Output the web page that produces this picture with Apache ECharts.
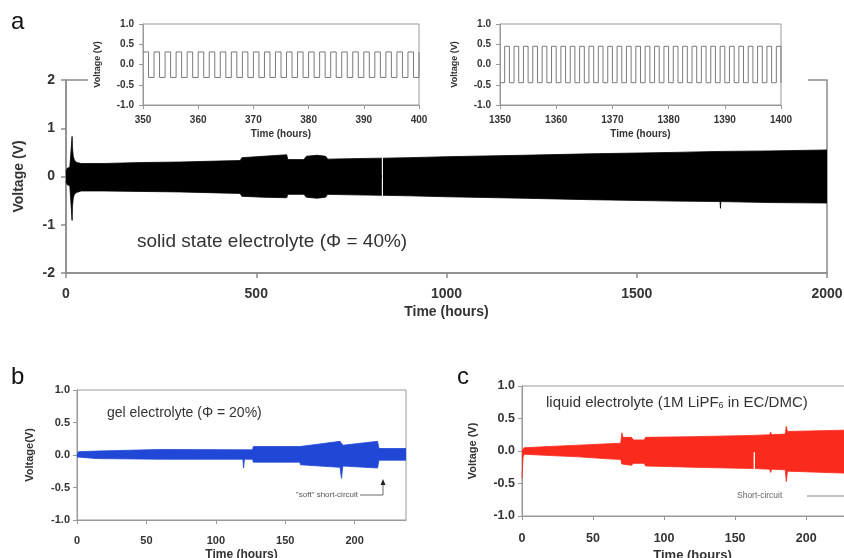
<!DOCTYPE html>
<html>
<head>
<meta charset="UTF-8"/>
<title>Voltage vs time</title>
<script src="https://cdn.jsdelivr.net/npm/echarts@6/dist/echarts.min.js"></script>
<style>
  html, body { margin: 0; padding: 0; background: #fff; }
  #chart { width: 844px; height: 558px; }
</style>
</head>
<body>
<div id="chart"></div>
<script type="text/javascript">
    // panel a: envelope of the cycling voltage (solid state electrolyte)
    var aTime  = [0, 3, 10, 15, 16, 17, 19, 22, 28, 40, 100, 200, 300, 400, 458, 462, 520, 580, 583, 625, 632, 660, 682, 688, 750, 830, 831.5, 833, 900, 1000, 1200, 1377, 1600, 1719, 1720, 1721, 1850, 2000];
    var aUpper = [0.1, 0.17, 0.19, 0.2, 0.83, 0.6, 0.42, 0.34, 0.29, 0.27, 0.27, 0.29, 0.3, 0.32, 0.33, 0.39, 0.42, 0.45, 0.35, 0.35, 0.42, 0.44, 0.42, 0.36, 0.37, 0.38, null, 0.38, 0.39, 0.41, 0.44, 0.47, 0.5, 0.52, 0.52, 0.52, 0.53, 0.55];
    var aLower = [-0.1, -0.17, -0.19, -0.22, -0.91, -0.62, -0.45, -0.37, -0.33, -0.3, -0.3, -0.31, -0.32, -0.34, -0.35, -0.41, -0.43, -0.44, -0.37, -0.37, -0.43, -0.45, -0.43, -0.37, -0.38, -0.39, null, -0.39, -0.4, -0.42, -0.45, -0.48, -0.51, -0.52, -0.66, -0.52, -0.54, -0.55];

    // insets of panel a: square waves
    var in1Time = [350, 351, 352, 353, 354, 355, 356, 357, 358, 359, 360, 361, 362, 363, 364, 365, 366, 367, 368, 369,
                   370, 371, 372, 373, 374, 375, 376, 377, 378, 379, 380, 381, 382, 383, 384, 385, 386, 387, 388, 389,
                   390, 391, 392, 393, 394, 395, 396, 397, 398, 399, 400];
    var in1Volt = [0.31, -0.32, 0.31, -0.32, 0.31, -0.32, 0.31, -0.32, 0.31, -0.32, 0.31, -0.32, 0.31, -0.32, 0.31, -0.32, 0.31, -0.32, 0.31, -0.32,
                   0.31, -0.32, 0.31, -0.32, 0.31, -0.32, 0.31, -0.32, 0.31, -0.32, 0.31, -0.32, 0.31, -0.32, 0.31, -0.32, 0.31, -0.32, 0.31, -0.32,
                   0.31, -0.32, 0.31, -0.32, 0.31, -0.32, 0.31, -0.32, 0.31, -0.32, 0.31];
    var in2Time = [1350, 1350.83, 1351.67, 1352.5, 1353.33, 1354.17, 1355, 1355.83, 1356.67, 1357.5, 1358.33, 1359.17,
                   1360, 1360.83, 1361.67, 1362.5, 1363.33, 1364.17, 1365, 1365.83, 1366.67, 1367.5, 1368.33, 1369.17,
                   1370, 1370.83, 1371.67, 1372.5, 1373.33, 1374.17, 1375, 1375.83, 1376.67, 1377.5, 1378.33, 1379.17,
                   1380, 1380.83, 1381.67, 1382.5, 1383.33, 1384.17, 1385, 1385.83, 1386.67, 1387.5, 1388.33, 1389.17,
                   1390, 1390.83, 1391.67, 1392.5, 1393.33, 1394.17, 1395, 1395.83, 1396.67, 1397.5, 1398.33, 1399.17, 1400];
    var in2Volt = [-0.45, 0.45, -0.45, 0.45, -0.45, 0.45, -0.45, 0.45, -0.45, 0.45, -0.45, 0.45,
                   -0.45, 0.45, -0.45, 0.45, -0.45, 0.45, -0.45, 0.45, -0.45, 0.45, -0.45, 0.45,
                   -0.45, 0.45, -0.45, 0.45, -0.45, 0.45, -0.45, 0.45, -0.45, 0.45, -0.45, 0.45,
                   -0.45, 0.45, -0.45, 0.45, -0.45, 0.45, -0.45, 0.45, -0.45, 0.45, -0.45, 0.45,
                   -0.45, 0.45, -0.45, 0.45, -0.45, 0.45, -0.45, 0.45, -0.45, 0.45, -0.45, 0.45, -0.45];

    // panel b: gel electrolyte
    var bTime  = [0, 1, 14, 15, 60, 119.5, 120, 120.6, 126.5, 127, 160.5, 161, 175, 189.5, 190.5, 191.5, 216.5, 217.5, 237];
    var bUpper = [0.0, 0.05, 0.06, 0.09, 0.085, 0.08, 0.08, 0.08, 0.08, 0.13, 0.13, 0.15, 0.17, 0.21, 0.22, 0.15, 0.21, 0.1, 0.1];
    var bLower = [-0.03, -0.05, -0.055, -0.065, -0.065, -0.065, -0.2, -0.065, -0.065, -0.11, -0.11, -0.15, -0.17, -0.19, -0.36, -0.17, -0.2, -0.08, -0.08];

    // panel c: liquid electrolyte
    var cTime  = [0, 0.7, 1.5, 20, 40, 60, 69.5, 70.3, 71, 77, 78.5, 86, 87, 120, 163, 163.5, 164, 174.3, 175, 175.7, 185.3, 186, 186.8, 188, 226, 240];
    var cUpper = [0.0, 0.03, 0.05, 0.07, 0.09, 0.11, 0.12, 0.28, 0.21, 0.21, 0.17, 0.17, 0.21, 0.22, 0.24, 0.24, 0.24, 0.25, 0.29, 0.25, 0.26, 0.38, 0.3, 0.31, 0.32, 0.32];
    var cLower = [-0.42, -0.1, -0.05, -0.07, -0.09, -0.12, -0.13, -0.2, -0.23, -0.22, -0.19, -0.19, -0.23, -0.25, -0.27, null, -0.27, -0.28, -0.33, -0.28, -0.29, -0.47, -0.31, -0.32, -0.34, -0.34];

    var bandColor = { a: '#000000', b: '#2147d6', c: '#fa2a1c' };
    var font = 'Liberation Sans, Arial, sans-serif';
    var plain = function(v) { return String(v); };
    var oneDec = function(v) { return v.toFixed(1); };

    var pairs = function(xs, ys) {
        return xs.map(function(x, i) { return [x, ys[i] == null ? '-' : ys[i]]; });
    };

    // one envelope filled toward zero; the two halves overlap a little so no seam shows
    var bandSeries = function(idx, xs, ys, color, origin) {
        return {
            type: 'line', xAxisIndex: idx, yAxisIndex: idx,
            data: pairs(xs, ys), symbol: 'none', silent: true,
            lineStyle: { color: color, width: 0.8 },
            areaStyle: { color: color, opacity: 1, origin: origin },
            z: 2
        };
    };

    var ax = function(idx, opt) {
        return Object.assign({
            type: 'value', gridIndex: idx, nameLocation: 'middle',
            splitLine: { show: false },
            axisLine: { show: true, onZero: false, lineStyle: { color: '#999', width: 1 } },
            axisTick: { show: true, length: 4, lineStyle: { color: '#999' } },
            axisLabel: { color: '#333', fontWeight: 'bold', fontFamily: font },
            nameTextStyle: { color: '#333', fontWeight: 'bold', fontFamily: font }
        }, opt);
    };
    var lbl = function(size, margin, fmt, extra) {
        return Object.assign({ color: '#333', fontWeight: 'bold', fontFamily: font, fontSize: size, margin: margin, formatter: fmt }, extra || {});
    };
    var nm = function(size) { return { color: '#333', fontWeight: 'bold', fontFamily: font, fontSize: size }; };
    var bTicks = [0, 50, 100, 150, 200];

    const chart = echarts.init(document.getElementById('chart'));
    chart.setOption({
        animation: false,
        textStyle: { fontFamily: font },
        grid: [
            { left: 66, top: 80, width: 761, height: 193, show: true, borderColor: '#8c8c8c', borderWidth: 1.5, z: 0, outerBoundsMode: 'none' },
            { left: 143, top: 24, width: 276, height: 81, show: true, borderColor: '#999', borderWidth: 1, backgroundColor: '#fff', z: 5, outerBoundsMode: 'none' },
            { left: 500, top: 24, width: 281, height: 81, show: true, borderColor: '#999', borderWidth: 1, backgroundColor: '#fff', z: 5, outerBoundsMode: 'none' },
            { left: 77, top: 390, width: 329, height: 130, show: true, borderColor: '#999', borderWidth: 1, outerBoundsMode: 'none' },
            { left: 522, top: 386, width: 341, height: 130, show: true, borderColor: '#999', borderWidth: 1, outerBoundsMode: 'none' }
        ],
        xAxis: [
            ax(0, { min: 0, max: 2000, interval: 500, name: 'Time (hours)', nameGap: 32,
                axisLine: { show: true, onZero: false, lineStyle: { color: '#8c8c8c', width: 1.5 } },
                axisTick: { show: true, length: 5, lineStyle: { color: '#8c8c8c', width: 1.5 } },
                axisLabel: lbl(14, 14, plain), nameTextStyle: nm(14) }),
            ax(1, { min: 350, max: 400, interval: 10, name: 'Time (hours)', nameGap: 24, z: 5,
                axisLabel: lbl(10, 10, plain), nameTextStyle: nm(10) }),
            ax(2, { min: 1350, max: 1400, interval: 10, name: 'Time (hours)', nameGap: 24, z: 5,
                axisLabel: lbl(10, 10, plain), nameTextStyle: nm(10) }),
            ax(3, { min: 0, max: 237, name: 'Time (hours)', nameGap: 29,
                axisTick: { show: true, length: 4, lineStyle: { color: '#999' }, customValues: bTicks },
                axisLabel: lbl(11, 15, plain, { customValues: bTicks }), nameTextStyle: nm(12) }),
            ax(4, { min: 0, max: 240, name: 'Time (hours)', nameGap: 33,
                axisTick: { show: true, length: 4, lineStyle: { color: '#999' }, customValues: bTicks },
                axisLabel: lbl(12.5, 16, plain, { customValues: bTicks }), nameTextStyle: nm(13) })
        ],
        yAxis: [
            ax(0, { min: -2, max: 2, interval: 1, name: 'Voltage (V)', nameGap: 40,
                axisLine: { show: true, onZero: false, lineStyle: { color: '#8c8c8c', width: 1.5 } },
                axisTick: { show: true, length: 5, lineStyle: { color: '#8c8c8c', width: 1.5 } },
                axisLabel: lbl(14, 11, plain), nameTextStyle: nm(14) }),
            ax(1, { min: -1, max: 1, interval: 0.5, name: 'Voltage (V)', nameGap: 41, z: 5,
                axisLabel: lbl(10, 9, oneDec), nameTextStyle: nm(9) }),
            ax(2, { min: -1, max: 1, interval: 0.5, name: 'Voltage (V)', nameGap: 41, z: 5,
                axisLabel: lbl(10, 9, oneDec), nameTextStyle: nm(9) }),
            ax(3, { min: -1, max: 1, interval: 0.5, name: 'Voltage(V)', nameGap: 42,
                axisLabel: lbl(11, 7, oneDec), nameTextStyle: nm(11) }),
            ax(4, { min: -1, max: 1, interval: 0.5, name: 'Voltage (V)', nameGap: 44,
                axisLabel: lbl(12.5, 7, oneDec), nameTextStyle: nm(11) })
        ],
        series: [
            bandSeries(0, aTime, aUpper, bandColor.a, -0.03),
            bandSeries(0, aTime, aLower, bandColor.a, 0.03),
            { type: 'line', xAxisIndex: 1, yAxisIndex: 1, data: pairs(in1Time, in1Volt), step: 'end',
              symbol: 'none', silent: true, lineStyle: { color: '#7a7a7a', width: 1 }, z: 6 },
            { type: 'line', xAxisIndex: 2, yAxisIndex: 2, data: pairs(in2Time, in2Volt), step: 'end',
              symbol: 'none', silent: true, lineStyle: { color: '#7a7a7a', width: 1 }, z: 6 },
            bandSeries(3, bTime, bUpper, bandColor.b, -0.02),
            bandSeries(3, bTime, bLower, bandColor.b, 0.0),
            bandSeries(4, cTime, cUpper, bandColor.c, -0.02),
            bandSeries(4, cTime, cLower, bandColor.c, 0.0)
        ],
        graphic: [
            // white patch behind the insets hides the top frame line of panel a
            { type: 'rect', z: 3, shape: { x: 88, y: 0, width: 720, height: 138 }, style: { fill: '#fff' } },
            { type: 'text', z: 10, x: 11, y: 22, style: { text: 'a', fontSize: 24, fontFamily: font, fill: '#111', verticalAlign: 'middle' } },
            { type: 'text', z: 10, x: 11, y: 377, style: { text: 'b', fontSize: 24, fontFamily: font, fill: '#111', verticalAlign: 'middle' } },
            { type: 'text', z: 10, x: 457, y: 377, style: { text: 'c', fontSize: 24, fontFamily: font, fill: '#111', verticalAlign: 'middle' } },
            { type: 'text', z: 10, x: 137, y: 242, style: { text: 'solid state electrolyte (\u03A6 = 40%)', fontSize: 19, fontFamily: font, fill: '#333', verticalAlign: 'middle' } },
            { type: 'text', z: 10, x: 107, y: 413, style: { text: 'gel electrolyte (\u03A6 = 20%)', fontSize: 14, fontFamily: font, fill: '#333', verticalAlign: 'middle' } },
            { type: 'text', z: 10, x: 546, y: 403, style: { text: 'liquid electrolyte (1M LiPF{sub|6} in EC/DMC)', fontSize: 15, fontFamily: font, fill: '#333', verticalAlign: 'middle',
                rich: { sub: { fontSize: 9, fontFamily: font, fill: '#333', verticalAlign: 'bottom', lineHeight: 9 } } } },
            { type: 'text', z: 10, x: 358, y: 495, style: { text: '"soft" short-circuit', fontSize: 8, fontFamily: font, fill: '#555', align: 'right', verticalAlign: 'middle' } },
            { type: 'polyline', z: 10, shape: { points: [[360, 495], [383, 495], [383, 484]] }, style: { stroke: '#444', lineWidth: 0.8, fill: null } },
            { type: 'polygon', z: 10, shape: { points: [[380.5, 485], [385.5, 485], [383, 479]] }, style: { fill: '#222' } },
            { type: 'text', z: 10, x: 737, y: 496, style: { text: 'Short-circuit', fontSize: 8.5, fontFamily: font, fill: '#666', verticalAlign: 'middle' } },
            { type: 'line', z: 10, shape: { x1: 807, y1: 496, x2: 844, y2: 496 }, style: { stroke: '#888', lineWidth: 1 } }
        ]
    });
</script>
</body>
</html>
